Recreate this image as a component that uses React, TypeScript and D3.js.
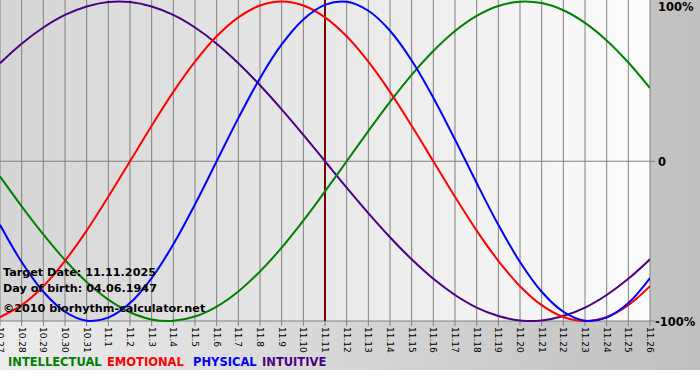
import React from "react";
import * as d3 from "d3";

const dateLabels = [
  "10.27", "10.28", "10.29", "10.30", "10.31", "11.1", "11.2", "11.3", "11.4", "11.5",
  "11.6", "11.7", "11.8", "11.9", "11.10", "11.11", "11.12", "11.13", "11.14", "11.15",
  "11.16", "11.17", "11.18", "11.19", "11.20", "11.21", "11.22", "11.23", "11.24", "11.25", "11.26",
];
const targetIndex = 15;

const physical = [
  -0.398, -0.631, -0.817, -0.942, -0.998, -0.979, -0.888, -0.731, -0.52, -0.27,
  0, 0.27, 0.52, 0.731, 0.888, 0.979, 0.998, 0.942, 0.817, 0.631,
  0.398, 0.136, -0.136, -0.398, -0.631, -0.817, -0.942, -0.998, -0.979, -0.888, -0.731,
];
const emotional = [
  -0.975, -0.901, -0.782, -0.623, -0.434, -0.222, 0, 0.222, 0.434, 0.623,
  0.782, 0.901, 0.975, 1, 0.975, 0.901, 0.782, 0.623, 0.434, 0.222,
  0, -0.222, -0.434, -0.623, -0.782, -0.901, -0.975, -1, -0.975, -0.901, -0.782,
];
const intellectual = [
  -0.095, -0.282, -0.458, -0.618, -0.756, -0.866, -0.945, -0.99, -0.999, -0.972,
  -0.91, -0.815, -0.69, -0.541, -0.372, -0.189, 0, 0.189, 0.372, 0.541,
  0.69, 0.815, 0.91, 0.972, 0.999, 0.99, 0.945, 0.866, 0.756, 0.618, 0.458,
];
const intuitive = [
  0.614, 0.736, 0.837, 0.916, 0.969, 0.997, 0.997, 0.969, 0.916, 0.837,
  0.736, 0.614, 0.476, 0.325, 0.165, 0, -0.165, -0.325, -0.476, -0.614,
  -0.736, -0.837, -0.916, -0.969, -0.997, -0.997, -0.969, -0.916, -0.837, -0.736, -0.614,
];

const seriesNames = ["INTELLECTUAL", "EMOTIONAL", "PHYSICAL", "INTUITIVE"];
const seriesColors = ["#008000", "#ff0000", "#0000ff", "#4b0082"];
const seriesData = [intellectual, emotional, physical, intuitive];
const drawOrder = [3, 0, 1, 2];

const yTicks = [
  { v: 1, label: "100%" },
  { v: 0, label: "0" },
  { v: -1, label: "-100%" },
];

const infoLines = ["Target Date: 11.11.2025", "Day of birth: 04.06.1947", "©2010 biorhythm-calculator.net"];

export default function App() {
  const W = 700;
  const H = 380;
  const plotL = 0;
  const plotR = 650;
  const plotT = 1.5;
  const plotB = 321;
  const x = d3.scaleLinear().domain([0, dateLabels.length - 1]).range([plotL, plotR]);
  const y = d3.scaleLinear().domain([-1, 1]).range([plotB, plotT]);
  const line = d3
    .line<number>()
    .x((_, i) => x(i))
    .y((v) => y(v))
    .curve(d3.curveCatmullRom.alpha(0.5));
  const font = "Verdana, 'DejaVu Sans', sans-serif";

  const legendPos = [8, 107, 193, 262];

  return (
    <svg
      width={W}
      height={H}
      style={{ position: "absolute", left: 0, top: 0, display: "block" }}
      fontFamily={font}
    >
      <defs>
        <linearGradient id="bg" x1="0" x2="1" y1="0" y2="0">
          <stop offset="0" stopColor="#ececec" />
          <stop offset="1" stopColor="#c0c0c0" />
        </linearGradient>
        <linearGradient id="plotbg" x1="0" x2="1" y1="0" y2="0">
          <stop offset="0" stopColor="#d5d5d5" />
          <stop offset="1" stopColor="#fcfcfc" />
        </linearGradient>
        <clipPath id="clip">
          <rect x={plotL} y={0} width={plotR - plotL} height={plotB + 1} />
        </clipPath>
      </defs>
      <rect x={0} y={0} width={W} height={H} fill="#ffffff" />
      <rect x={0} y={0} width={W} height={370} fill="url(#bg)" />
      <rect x={plotL} y={0} width={plotR - plotL} height={plotB} fill="url(#plotbg)" />

      {dateLabels.map((lab, i) => (
        <g key={lab}>
          <line x1={x(i)} x2={x(i)} y1={0} y2={plotB + 5} stroke="#808080" strokeWidth={1} />
          <text
            transform={`translate(${x(i)},${plotB + 6}) rotate(90)`}
            fontSize={9}
            fill="#000"
            dominantBaseline="central"
          >
            {lab}
          </text>
        </g>
      ))}

      {yTicks.map((t) => (
        <g key={t.label}>
          {t.v !== 1 && (
            <line x1={plotL} x2={plotR + 5} y1={y(t.v)} y2={y(t.v)} stroke="#808080" strokeWidth={1} />
          )}
          <text
            x={plotR + (t.v === -1 ? 5 : 8)}
            y={y(t.v) + (t.v === 1 ? 6 : 1)}
            fontSize={11.5}
            fontWeight="bold"
            fill="#000"
            dominantBaseline="middle"
          >
            {t.label}
          </text>
        </g>
      ))}

      <line
        x1={x(targetIndex)}
        x2={x(targetIndex)}
        y1={0}
        y2={plotB}
        stroke="#800000"
        strokeWidth={2}
      />

      <g clipPath="url(#clip)">
        {drawOrder.map((si) => (
          <path
            key={seriesNames[si]}
            d={line(seriesData[si]) || ""}
            fill="none"
            stroke={seriesColors[si]}
            strokeWidth={2}
          />
        ))}
      </g>

      {infoLines.map((t, i) => (
        <text
          key={t}
          x={3}
          y={[276, 292, 312][i]}
          fontSize={11.2}
          fontWeight="bold"
          fill="#000"
        >
          {t}
        </text>
      ))}

      {seriesNames.map((n, i) => (
        <text
          key={n}
          x={legendPos[i]}
          y={366}
          fontSize={11.5}
          fontWeight="bold"
          fill={seriesColors[i]}
        >
          {n}
        </text>
      ))}
    </svg>
  );
}
